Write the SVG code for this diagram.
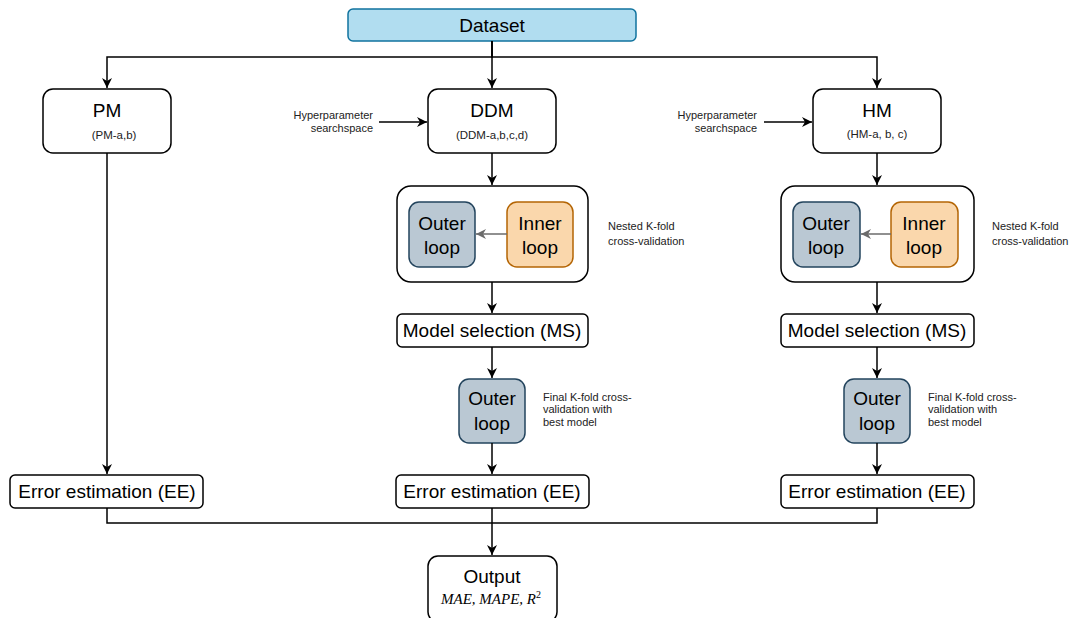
<svg xmlns="http://www.w3.org/2000/svg" width="1075" height="618" viewBox="0 0 1075 618">
<defs>
<marker id="ah" viewBox="0 0 10 10" refX="10" refY="5" markerWidth="10" markerHeight="10" markerUnits="userSpaceOnUse" orient="auto">
<path d="M0,0 L10,5 L0,10 L3,5 Z" fill="#000"/>
</marker>
<marker id="ahg" viewBox="0 0 10 10" refX="10" refY="5" markerWidth="10" markerHeight="10" markerUnits="userSpaceOnUse" orient="auto">
<path d="M0,0 L10,5 L0,10 L3,5 Z" fill="#6b6b6b"/>
</marker>
<style>
.box{fill:#fff;stroke:#000;stroke-width:1.5}
.ds{fill:#b1ddf0;stroke:#10739e;stroke-width:1.5}
.outer{fill:#bac8d3;stroke:#23445d;stroke-width:1.5}
.inner{fill:#fad7ac;stroke:#b46504;stroke-width:1.5}
.big{font-family:"Liberation Sans",Arial,sans-serif;font-size:19px;fill:#000;text-anchor:middle}
.sm{font-family:"Liberation Sans",Arial,sans-serif;font-size:11px;fill:#222}
.smc{font-family:"Liberation Sans",Arial,sans-serif;font-size:11.5px;fill:#222;text-anchor:middle}
.ann{font-family:"Liberation Sans",Arial,sans-serif;font-size:11px;fill:#222;text-anchor:end}
.math{font-family:"Liberation Serif","Times New Roman",serif;font-size:15px;font-style:italic;fill:#000;text-anchor:middle}
.c{fill:none;stroke:#000;stroke-width:1.5}
.cg{fill:none;stroke:#6b6b6b;stroke-width:1.5}
</style>
</defs>

<g id="dataset">
<rect class="ds" x="348" y="9" width="288" height="32" rx="5"/>
<text class="big" x="492" y="32">Dataset</text>
</g>

<g id="pm">
<rect class="box" x="43" y="89" width="128" height="64" rx="10"/>
<text class="big" x="107" y="117">PM</text>
<text class="smc" x="114" y="139">(PM-a,b)</text>
</g>

<g id="ddm">
<rect class="box" x="428" y="89" width="128" height="64" rx="10"/>
<text class="big" x="492" y="117">DDM</text>
<text class="smc" x="492" y="139">(DDM-a,b,c,d)</text>
</g>

<g id="hm">
<rect class="box" x="813" y="89" width="128" height="64" rx="10"/>
<text class="big" x="877" y="117">HM</text>
<text class="smc" x="877" y="138">(HM-a, b, c)</text>
</g>

<g id="hyper-ddm">
<text class="ann" x="373" y="119">Hyperparameter</text>
<text class="ann" x="373" y="132">searchspace</text>
</g>
<g id="hyper-hm">
<text class="ann" x="757" y="119">Hyperparameter</text>
<text class="ann" x="757" y="132">searchspace</text>
</g>

<g id="nested-ddm">
<rect class="box" x="397" y="186" width="191" height="96" rx="14"/>
</g>
<g id="outer-ddm">
<rect class="outer" x="409" y="202" width="66" height="65" rx="10"/>
<text class="big" x="442" y="230">Outer</text>
<text class="big" x="442" y="254">loop</text>
</g>
<g id="inner-ddm">
<rect class="inner" x="507" y="202" width="66" height="65" rx="10"/>
<text class="big" x="540" y="230">Inner</text>
<text class="big" x="540" y="254">loop</text>
</g>
<g id="nested-label-ddm">
<text class="sm" x="608" y="230">Nested K-fold</text>
<text class="sm" x="608" y="245">cross-validation</text>
</g>

<g id="nested-hm">
<rect class="box" x="781" y="186" width="193" height="96" rx="14"/>
</g>
<g id="outer-hm">
<rect class="outer" x="793" y="202" width="67" height="65" rx="10"/>
<text class="big" x="826" y="230">Outer</text>
<text class="big" x="826" y="254">loop</text>
</g>
<g id="inner-hm">
<rect class="inner" x="891" y="202" width="67" height="65" rx="10"/>
<text class="big" x="924" y="230">Inner</text>
<text class="big" x="924" y="254">loop</text>
</g>
<g id="nested-label-hm">
<text class="sm" x="992" y="230">Nested K-fold</text>
<text class="sm" x="992" y="245">cross-validation</text>
</g>

<g id="ms-ddm">
<rect class="box" x="397" y="314" width="191" height="33" rx="5"/>
<text class="big" x="492" y="337">Model selection (MS)</text>
</g>
<g id="ms-hm">
<rect class="box" x="781" y="314" width="193" height="33" rx="5"/>
<text class="big" x="877" y="337">Model selection (MS)</text>
</g>

<g id="final-ddm">
<rect class="outer" x="459" y="379" width="66" height="64" rx="10"/>
<text class="big" x="492" y="405">Outer</text>
<text class="big" x="492" y="430">loop</text>
</g>
<g id="final-label-ddm">
<text class="sm" x="543" y="401">Final K-fold cross-</text>
<text class="sm" x="543" y="413">validation with</text>
<text class="sm" x="543" y="426">best model</text>
</g>
<g id="final-hm">
<rect class="outer" x="844" y="379" width="66" height="64" rx="10"/>
<text class="big" x="877" y="405">Outer</text>
<text class="big" x="877" y="430">loop</text>
</g>
<g id="final-label-hm">
<text class="sm" x="928" y="401">Final K-fold cross-</text>
<text class="sm" x="928" y="413">validation with</text>
<text class="sm" x="928" y="426">best model</text>
</g>

<g id="ee-pm">
<rect class="box" x="10" y="475" width="193" height="33" rx="5"/>
<text class="big" x="107" y="498">Error estimation (EE)</text>
</g>
<g id="ee-ddm">
<rect class="box" x="396" y="475" width="193" height="33" rx="5"/>
<text class="big" x="492" y="498">Error estimation (EE)</text>
</g>
<g id="ee-hm">
<rect class="box" x="781" y="475" width="193" height="33" rx="5"/>
<text class="big" x="877" y="498">Error estimation (EE)</text>
</g>

<g id="output">
<rect class="box" x="428" y="556" width="129" height="66" rx="10"/>
<text class="big" x="492" y="583">Output</text>
<text class="math" x="491" y="604">MAE, MAPE, R<tspan font-size="10" dy="-6" font-style="normal">2</tspan></text>
</g>

<g id="connectors">
<path class="c" d="M492,41 V88" marker-end="url(#ah)"/>
<path class="c" d="M492,41 V57 H107 V88" marker-end="url(#ah)"/>
<path class="c" d="M492,41 V57 H877 V88" marker-end="url(#ah)"/>
<path class="c" d="M379,122 H427" marker-end="url(#ah)"/>
<path class="c" d="M764,122 H812" marker-end="url(#ah)"/>
<path class="c" d="M492,153 V185" marker-end="url(#ah)"/>
<path class="c" d="M877,153 V185" marker-end="url(#ah)"/>
<path class="c" d="M492,282 V313" marker-end="url(#ah)"/>
<path class="c" d="M877,282 V313" marker-end="url(#ah)"/>
<path class="c" d="M492,347 V378" marker-end="url(#ah)"/>
<path class="c" d="M877,347 V378" marker-end="url(#ah)"/>
<path class="c" d="M492,443 V474" marker-end="url(#ah)"/>
<path class="c" d="M877,443 V474" marker-end="url(#ah)"/>
<path class="c" d="M107,153 V474" marker-end="url(#ah)"/>
<path class="c" d="M492,508 V555" marker-end="url(#ah)"/>
<path class="c" d="M107,508 V523 H492"/>
<path class="c" d="M877,508 V523 H492"/>
<path class="cg" d="M507,234 H476" marker-end="url(#ahg)"/>
<path class="cg" d="M891,234 H861" marker-end="url(#ahg)"/>
</g>
</svg>
